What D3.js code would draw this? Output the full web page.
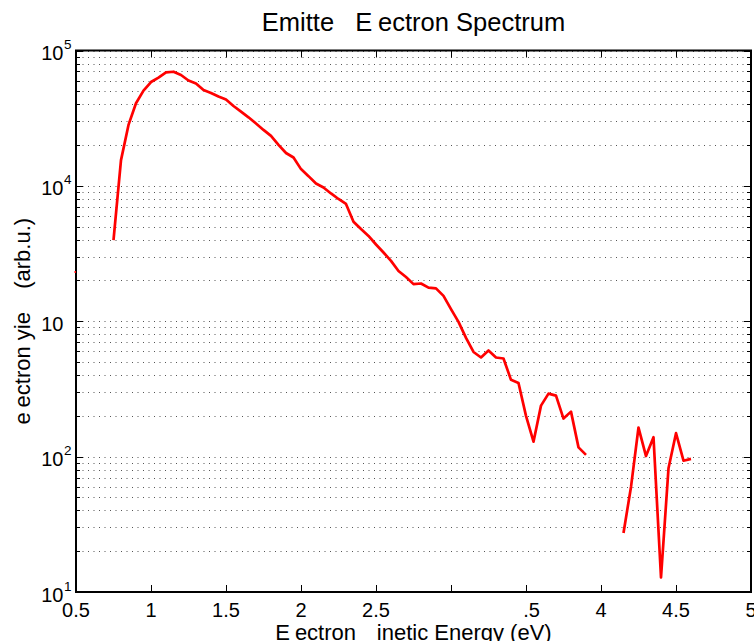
<!DOCTYPE html>
<html><head><meta charset="utf-8">
<script src="https://cdn.jsdelivr.net/npm/d3@7"></script>
<style>html,body{margin:0;padding:0;background:#fff;overflow:hidden}text{white-space:pre}</style>
</head><body>
<svg id="chart" width="754" height="641"></svg>
<script>
// ---- data ----
const energy = [0.75,0.80,0.85,0.90,0.95,1.00,1.05,1.10,1.15,1.20,1.25,1.30,1.35,1.40,1.45,1.50,
  1.55,1.60,1.65,1.70,1.75,1.80,1.85,1.90,1.95,2.00,2.05,2.10,2.15,2.20,2.25,2.30,
  2.35,2.40,2.45,2.50,2.55,2.60,2.65,2.70,2.75,2.80,2.85,2.90,2.95,3.00,3.05,3.10,
  3.15,3.20,3.25,3.30,3.35,3.40,3.45,3.50,3.55,3.60,3.65,3.70,3.75,3.80,3.85,3.90,
  3.95,4.00,4.05,4.10,4.15,4.20,4.25,4.30,4.35,4.40,4.45,4.50,4.55,4.60];
const electronYield = [3980,15500,28200,40800,50500,58500,63100,68900,69700,65900,60000,57000,51000,48500,45700,43400,
  38900,35400,32100,28900,25900,23400,20100,17500,16200,13300,11800,10400,9730,8790,8000,7350,
  5440,4800,4270,3690,3220,2790,2350,2120,1880,1900,1770,1750,1540,1230,989,753,
  593,540,608,540,531,369,350,200,129,238,292,282,191,215,117,103,
  null,null,null,null,27.3,59.7,164,101,139,12.8,82,149,93.3,96.2];
const edgeEnergy = [0.49, 0.5];
const edgeYield = [2310, 2310];

const xTickValues = [0.5,1,1.5,2,2.5,3,3.5,4,4.5,5];
const xTickLabels = ["0.5","1","1.5","2","2.5","3","3.5","4","4.5","5"];
const xTickOmit = [[],[],[],[],[],[0],[0],[],[],[]];   // glyphs that do not render in the reference
const yTickValues = [1e1,1e2,1e3,1e4,1e5];
const yTickExponents = ["1","2","","4","5"];

const titleText = "Emitted Electron Spectrum";   const titleOmit = [6,9];
const xLabelText = "Electron Kinetic Energy (eV)"; const xLabelOmit = [1,9];
const yLabelText = "electron yield (arb.u.)";     const yLabelOmit = [1,12,13];

// ---- layout ----
const L = 76, R = 751, T = 50.5, B = 592;
const FONT = "'Liberation Sans', Arial, Helvetica, sans-serif";
const svg = d3.select("#chart");

const x = d3.scaleLinear().domain([0.5, 5]).range([L, R]);
const y = d3.scaleLog().domain([10, 1e5]).range([B, T]);

// grid (horizontal dotted, majors + minors)
const gridVals = [];
for (let k = 1; k <= 4; k++) for (let m = 1; m <= 9; m++) gridVals.push(m * Math.pow(10, k));
gridVals.push(1e5);
svg.append("g").selectAll("line").data(gridVals).join("line")
  .attr("x1", L + 1).attr("x2", R - 1)
  .attr("y1", d => Math.round(y(d)) + 0.5).attr("y2", d => Math.round(y(d)) + 0.5)
  .attr("stroke", "#555").attr("stroke-width", 1).attr("stroke-dasharray", "1,4.5");

// ticks on all sides
const isMajor = d => Math.abs(Math.log10(d) - Math.round(Math.log10(d))) < 1e-9;
const tk = svg.append("g").attr("stroke", "#000").attr("stroke-width", 1);
tk.selectAll(".yl").data(gridVals).join("line")
  .attr("x1", L).attr("x2", d => L + (isMajor(d) ? 7 : 4))
  .attr("y1", d => Math.round(y(d)) + 0.5).attr("y2", d => Math.round(y(d)) + 0.5);
tk.selectAll(".yr").data(gridVals).join("line")
  .attr("x1", R).attr("x2", d => R - (isMajor(d) ? 7 : 4))
  .attr("y1", d => Math.round(y(d)) + 0.5).attr("y2", d => Math.round(y(d)) + 0.5);
tk.selectAll(".xb").data(xTickValues).join("line")
  .attr("x1", d => Math.round(x(d)) + 0.5).attr("x2", d => Math.round(x(d)) + 0.5)
  .attr("y1", B).attr("y2", B - 7);
tk.selectAll(".xt").data(xTickValues).join("line")
  .attr("x1", d => Math.round(x(d)) + 0.5).attr("x2", d => Math.round(x(d)) + 0.5)
  .attr("y1", T).attr("y2", T + 7);

// data line
const line = d3.line().defined(d => d[1] != null && d[1] > 0).x(d => x(d[0])).y(d => y(d[1]));
svg.append("path").datum(energy.map((e, i) => [e, electronYield[i]]))
  .attr("d", line).attr("fill", "none").attr("stroke", "#ff0000")
  .attr("stroke-width", 2.7).attr("stroke-linejoin", "round");

// box
svg.append("rect").attr("x", L).attr("y", T).attr("width", R - L).attr("height", B - T)
  .attr("fill", "none").attr("stroke", "#000").attr("stroke-width", 2);
svg.append("path").datum(edgeEnergy.map((e, i) => [e, edgeYield[i]]))
  .attr("d", line).attr("fill", "none").attr("stroke", "#ff0000").attr("stroke-width", 2);

// text helper: draws only the glyphs that are visible in the reference, at their natural positions
function gappyText(parent, full, omit, attrs) {
  const t = parent.append("text").text(full);
  for (const k in attrs) t.attr(k, attrs[k]);
  const node = t.node();
  const xs = [];
  for (let i = 0; i < full.length; i++) xs.push(node.getStartPositionOfChar(i).x);
  const om = new Set(omit);
  t.text(null).attr("text-anchor", "start");
  let i = 0;
  while (i < full.length) {
    if (om.has(i)) { i++; continue; }
    let j = i;
    while (j < full.length && !om.has(j)) j++;
    t.append("tspan").attr("x", xs[i]).text(full.slice(i, j));
    i = j;
  }
  return t;
}

// x tick labels
xTickValues.forEach((v, i) => {
  gappyText(svg, xTickLabels[i], xTickOmit[i], {
    x: x(v), y: 617, "text-anchor": "middle", "font-family": FONT, "font-size": 20, fill: "#000"
  });
});

// y tick labels
yTickValues.forEach((v, i) => {
  const yy = y(v);
  svg.append("text").attr("x", 63.5).attr("y", yy + 9.5).attr("text-anchor", "end")
    .attr("font-family", FONT).attr("font-size", 20).attr("fill", "#000").text("10");
  if (yTickExponents[i])
    svg.append("text").attr("x", 64).attr("y", yy - 1.5).attr("text-anchor", "start")
      .attr("font-family", FONT).attr("font-size", 13.5).attr("fill", "#000").text(yTickExponents[i]);
});

// title & axis labels
gappyText(svg, titleText, titleOmit, {
  x: (L + R) / 2, y: 31, "text-anchor": "middle", "font-family": FONT, "font-size": 25.5, fill: "#000"
});
gappyText(svg, xLabelText, xLabelOmit, {
  x: (L + R) / 2, y: 640, "text-anchor": "middle", "font-family": FONT, "font-size": 22, fill: "#000"
});
const gy = svg.append("g").attr("transform", `translate(30,${(T + B) / 2}) rotate(-90)`);
gappyText(gy, yLabelText, yLabelOmit, {
  x: 0, y: 0, "text-anchor": "middle", "font-family": FONT, "font-size": 22, fill: "#000"
});
</script>
</body></html>
